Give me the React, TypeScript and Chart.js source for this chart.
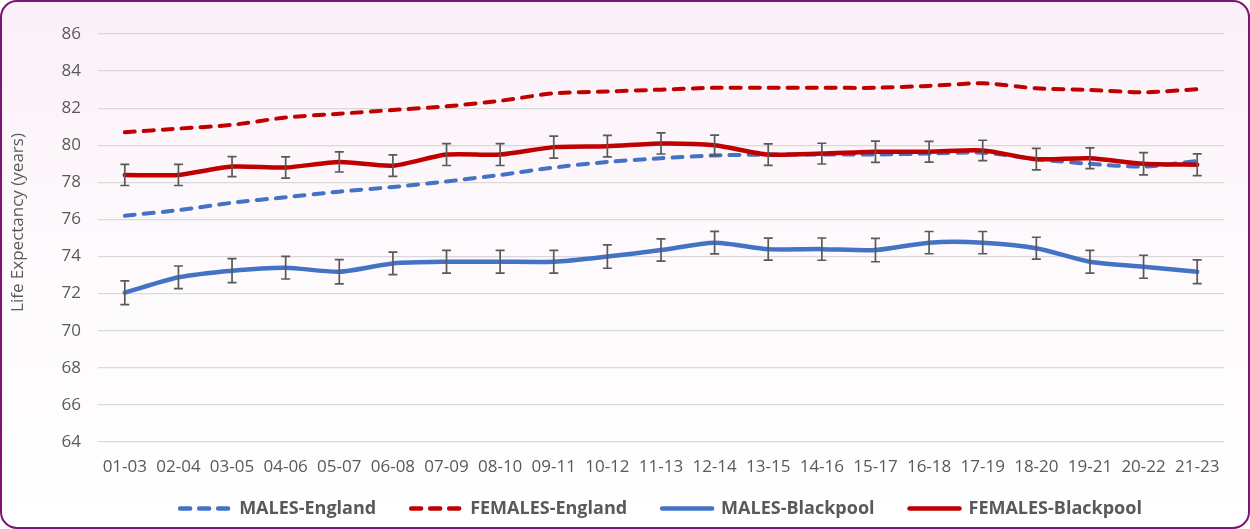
import React, { useEffect, useRef } from "react";
import { Chart, registerables } from "chart.js";

Chart.register(...registerables);

const periods = [
  "01-03", "02-04", "03-05", "04-06", "05-07", "06-08", "07-09", "08-10", "09-11", "10-12", "11-13",
  "12-14", "13-15", "14-16", "15-17", "16-18", "17-19", "18-20", "19-21", "20-22", "21-23",
];

const malesEngland = [76.2, 76.5, 76.9, 77.2, 77.5, 77.75, 78.05, 78.4, 78.8, 79.1, 79.3, 79.45, 79.5, 79.5, 79.5, 79.55, 79.6, 79.25, 79.0, 78.85, 79.15];
const femalesEngland = [80.7, 80.9, 81.1, 81.5, 81.7, 81.9, 82.1, 82.4, 82.8, 82.9, 83.0, 83.1, 83.1, 83.1, 83.1, 83.2, 83.34, 83.07, 82.98, 82.86, 83.02];
const malesBlackpool = [72.05, 72.88, 73.24, 73.4, 73.18, 73.63, 73.72, 73.72, 73.72, 74.0, 74.35, 74.75, 74.4, 74.4, 74.35, 74.75, 74.75, 74.45, 73.72, 73.45, 73.18];
const femalesBlackpool = [78.4, 78.4, 78.85, 78.8, 79.1, 78.9, 79.5, 79.5, 79.9, 79.95, 80.1, 80.0, 79.5, 79.55, 79.65, 79.65, 79.72, 79.25, 79.3, 79.0, 78.95];

// 95% confidence interval half-widths (years)
const malesBlackpoolCI = [0.64, 0.61, 0.65, 0.61, 0.65, 0.61, 0.61, 0.61, 0.61, 0.63, 0.6, 0.61, 0.59, 0.6, 0.63, 0.6, 0.6, 0.59, 0.61, 0.62, 0.64];
const femalesBlackpoolCI = [0.57, 0.57, 0.54, 0.57, 0.54, 0.58, 0.59, 0.59, 0.59, 0.58, 0.57, 0.55, 0.58, 0.56, 0.57, 0.56, 0.55, 0.58, 0.56, 0.6, 0.59];

const seriesLabels = ["MALES-England", "FEMALES-England", "MALES-Blackpool", "FEMALES-Blackpool"];
const yAxisTitle = "       Life Expectancy (years)";

const yMin = 64;
const yMax = 86;
const yStep = 2;

const BLUE = "#4472C4";
const RED = "#C00000";
const TEXT = "#595959";
const FONT = "'Open Sans', 'DejaVu Sans', sans-serif";

const errorBarPlugin = {
  id: "errorBars",
  afterDatasetsDraw(chart: any) {
    const ctx = chart.ctx;
    const yScale = chart.scales.y;
    chart.data.datasets.forEach((ds: any, i: number) => {
      const ci = ds.ci as number[] | undefined;
      if (!ci) return;
      const meta = chart.getDatasetMeta(i);
      ctx.save();
      ctx.strokeStyle = "#595959";
      ctx.lineWidth = 1.7;
      ctx.setLineDash([]);
      meta.data.forEach((pt: any, j: number) => {
        const v = ds.data[j];
        const e = ci[j];
        const x = pt.x;
        const top = yScale.getPixelForValue(v + e);
        const bot = yScale.getPixelForValue(v - e);
        ctx.beginPath();
        ctx.moveTo(x, top);
        ctx.lineTo(x, bot);
        ctx.moveTo(x - 4.5, top);
        ctx.lineTo(x + 4.5, top);
        ctx.moveTo(x - 4.5, bot);
        ctx.lineTo(x + 4.5, bot);
        ctx.stroke();
      });
      ctx.restore();
    });
  },
};

// Keep the legend short in the layout, then move its box up so the wide
// horizontal item padding does not push the plot area up.
const LEGEND_LAYOUT_HEIGHT = 40;
const LEGEND_TOP = 464.5;
const CANVAS_H = 529;
const legendLayoutPlugin = {
  id: "legendLayout",
  beforeLayout(chart: any) {
    const lg = chart.legend;
    if (lg && !lg.__patched) {
      const orig = lg.fit.bind(lg);
      lg.fit = function () {
        orig();
        this.height = LEGEND_LAYOUT_HEIGHT;
      };
      lg.__patched = true;
    }
  },
  afterLayout(chart: any) {
    const lg = chart.legend;
    if (lg) {
      lg.top = LEGEND_TOP;
      lg.bottom = CANVAS_H;
      lg.height = CANVAS_H - LEGEND_TOP;
    }
  },
};

export default function App() {
  const ref = useRef<HTMLCanvasElement | null>(null);

  useEffect(() => {
    document.body.style.margin = "0";
    if (!ref.current) return;
    const chart = new Chart(ref.current, {
      type: "line",
      data: {
        labels: periods,
        datasets: [
          {
            label: seriesLabels[0],
            data: malesEngland,
            borderColor: BLUE,
            backgroundColor: BLUE,
            borderWidth: 4,
            borderDash: [10, 9],
            borderCapStyle: "round",
            pointRadius: 0,
            tension: 0.25,
            order: 4,
          },
          {
            label: seriesLabels[1],
            data: femalesEngland,
            borderColor: RED,
            backgroundColor: RED,
            borderWidth: 4,
            borderDash: [10, 9],
            borderCapStyle: "round",
            pointRadius: 0,
            tension: 0.25,
            order: 3,
          },
          {
            label: seriesLabels[2],
            data: malesBlackpool,
            borderColor: BLUE,
            backgroundColor: BLUE,
            borderWidth: 4.5,
            borderCapStyle: "round",
            pointRadius: 0,
            tension: 0.25,
            order: 2,
            ci: malesBlackpoolCI,
          } as any,
          {
            label: seriesLabels[3],
            data: femalesBlackpool,
            borderColor: RED,
            backgroundColor: RED,
            borderWidth: 4.5,
            borderCapStyle: "round",
            pointRadius: 0,
            tension: 0.25,
            order: 1,
            ci: femalesBlackpoolCI,
          } as any,
        ],
      },
      options: {
        responsive: false,
        animation: false,
        devicePixelRatio: 1,
        layout: { padding: { left: 4, right: 26, top: 34, bottom: 0 } },
        plugins: {
          tooltip: { enabled: false },
          legend: {
            position: "bottom",
            fullSize: false,
            labels: {
              usePointStyle: true,
              pointStyle: "line",
              pointStyleWidth: 50,
              padding: 35,
              color: TEXT,
              font: { family: FONT, size: 18, weight: "bold" },
              sort: (a: any, b: any) => a.datasetIndex - b.datasetIndex,
              generateLabels: (chart: any) => {
                const items = (Chart.defaults.plugins.legend.labels as any).generateLabels(chart);
                items.forEach((it: any) => {
                  const ds: any = chart.data.datasets[it.datasetIndex];
                  it.lineDash = ds.borderDash || [];
                  it.lineCap = "round";
                  it.lineWidth = 4.5;
                  it.strokeStyle = ds.borderColor;
                  it.fillStyle = ds.borderColor;
                });
                return items;
              },
            },
          },
        },
        scales: {
          x: {
            offset: true,
            grid: { display: false, drawTicks: false },
            border: { display: false },
            ticks: {
              color: TEXT,
              padding: 15,
              font: { family: FONT, size: 17 },
              maxRotation: 0,
              autoSkip: false,
            },
            afterFit: (s: any) => {
              s.height = 489 - 442;
            },
          },
          y: {
            min: yMin,
            max: yMax,
            grid: { color: "#D9D9D9", lineWidth: 1.3, drawTicks: false },
            border: { display: false },
            ticks: {
              stepSize: yStep,
              color: TEXT,
              padding: 17,
              font: { family: FONT, size: 17 },
            },
            title: {
              display: true,
              text: yAxisTitle,
              color: TEXT,
              font: { family: FONT, size: 17 },
            },
            afterFit: (s: any) => {
              s.width = 94;
            },
          },
        },
      },
      plugins: [errorBarPlugin, legendLayoutPlugin],
    });
    return () => chart.destroy();
  }, []);

  return (
    <div style={{ position: "fixed", left: 0, top: 0, width: 1250, height: 529 }}>
      <div
        style={{
          position: "absolute",
          left: 0,
          top: 0,
          width: 1250,
          height: 529,
          boxSizing: "border-box",
          border: "2px solid #7E1470",
          borderRadius: 17,
          background: "linear-gradient(to bottom, #FBF0F8 0%, #FDF9FC 45%, #FFFFFF 100%)",
        }}
      />
      <canvas ref={ref} width={1250} height={529} style={{ position: "absolute", left: 0, top: 0 }} />
    </div>
  );
}
